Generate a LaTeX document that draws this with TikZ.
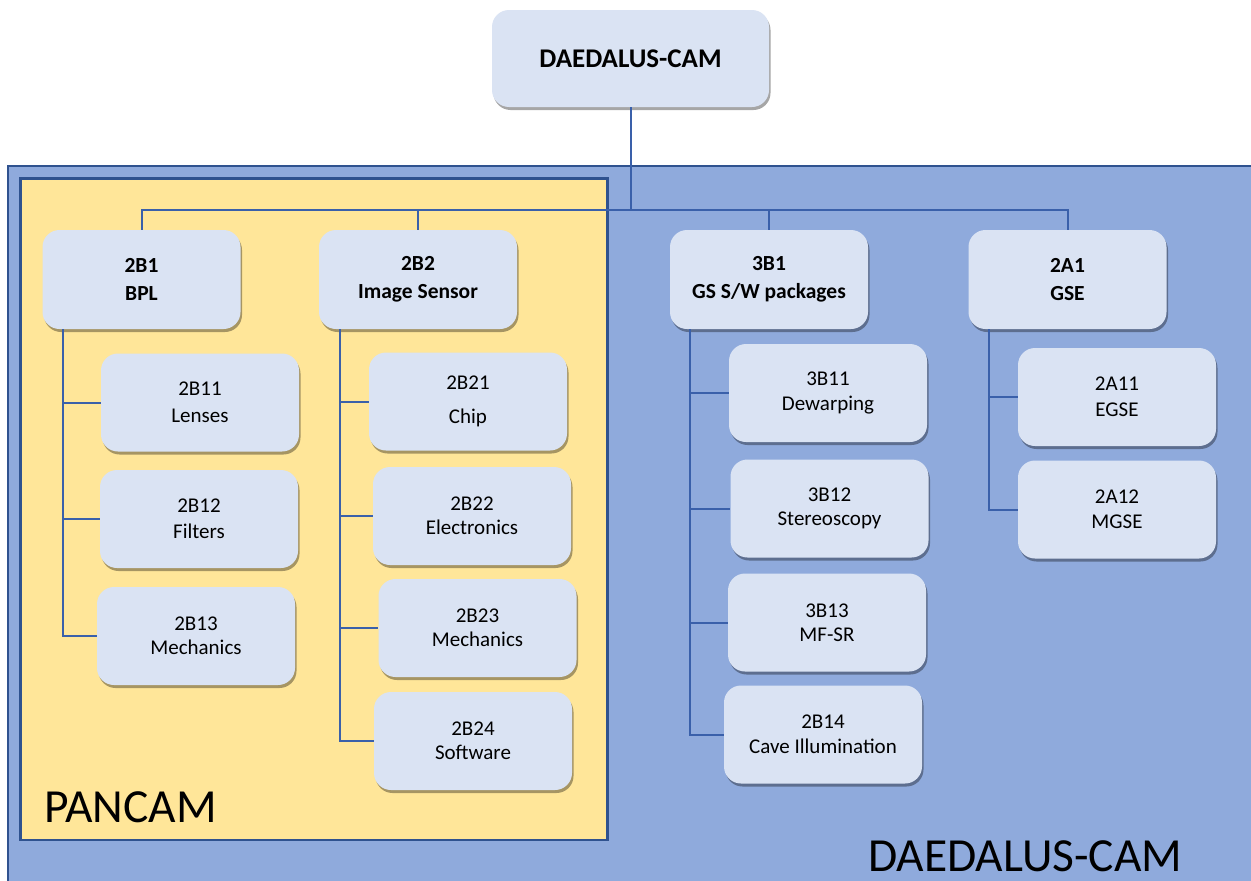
\documentclass[tikz,border=0pt]{standalone}
\usepackage{fontspec}
\setmainfont{Carlito}
\usetikzlibrary{shadows}
\definecolor{nodefill}{RGB}{218,227,243}
\definecolor{bluebg}{RGB}{143,170,220}
\definecolor{yellowbg}{RGB}{255,230,153}
\definecolor{frameblue}{RGB}{47,82,143}
\definecolor{linkblue}{RGB}{58,96,170}
\tikzset{
  boxbase/.style={rectangle, rounded corners=17pt, fill=nodefill, draw=none,
    inner sep=0pt, align=center, text=black,
    drop shadow={shadow xshift=1.5pt, shadow yshift=-3pt, opacity=0.35, fill=black}},
  topbox/.style={boxbase, minimum width=277pt, minimum height=97pt,
    font=\fontsize{27}{32}\selectfont\bfseries},
  levelbox/.style={boxbase, minimum width=198pt, minimum height=99pt,
    font=\fontsize{21.5}{27.5}\selectfont\bfseries},
  childbox/.style={boxbase, minimum width=198pt, minimum height=98pt,
    font=\fontsize{21}{24.5}\selectfont},
  link/.style={draw=linkblue, line width=2pt},
  frame/.style={draw=frameblue, line width=2.5pt},
  biglabel/.style={anchor=base west, inner sep=0pt, font=\fontsize{47.5}{50}\selectfont, text=black}
}
\begin{document}
\begin{tikzpicture}[x=1pt,y=-1pt]
\useasboundingbox (0,0) rectangle (1251,881);
\clip (0,0) rectangle (1251,881);
\fill[white] (0,0) rectangle (1251,881);
% containers
\path[frame, fill=bluebg] (8,166) rectangle (1270,900);
\path[frame, fill=yellowbg] (20.5,178.5) rectangle (607.5,840);
\node[biglabel] (pancam) at (44,822) {PANCAM};
\node[biglabel] (daedaluslbl) at (868,871) {DAEDALUS-CAM};
% top
\node[topbox] (top) at (630.5,58.5) {DAEDALUS-CAM};
% level 1
\node[levelbox] (b2B1) at (141.5,279.5) {2B1\\BPL};
\node[levelbox] (b2B2) at (418,279.5) {2B2\\Image Sensor};
\node[levelbox] (b3B1) at (769,279.5) {3B1\\GS S/W packages};
\node[levelbox] (b2A1) at (1067.5,279.5) {2A1\\GSE};
% children
\node[childbox] (n2B11) at (200,402.5) {2B11\\[2pt]Lenses};
\node[childbox] (n2B12) at (199,519) {2B12\\[1pt]Filters};
\node[childbox] (n2B13) at (196,636) {2B13\\Mechanics};
\node[childbox] (n2B21) at (468,401.5) {2B21\\[9pt]Chip};
\node[childbox] (n2B22) at (472,516) {2B22\\Electronics};
\node[childbox] (n2B23) at (477.5,628) {2B23\\Mechanics};
\node[childbox] (n2B24) at (473,741) {2B24\\Software};
\node[childbox] (n3B11) at (828,393) {3B11\\Dewarping};
\node[childbox] (n3B12) at (829.5,508.5) {3B12\\Stereoscopy};
\node[childbox] (n3B13) at (827,622.5) {3B13\\MF-SR};
\node[childbox] (n2B14) at (823,734.5) {2B14\\Cave Illumination};
\node[childbox] (n2A11) at (1117,397) {2A11\\[2pt]EGSE};
\node[childbox] (n2A12) at (1117,509.5) {2A12\\MGSE};
% connectors
\coordinate (hub) at (630.5,209.5);
\draw[link] (top.south) -- (hub);
\draw[link] (b2B1.north) |- (hub);
\draw[link] (b2B2.north) |- (hub);
\draw[link] (b3B1.north) |- (hub);
\draw[link] (b2A1.north) |- (hub);
\coordinate (s2B1) at (62.5,329);
\coordinate (s2B2) at (339.5,329);
\coordinate (s3B1) at (690,329);
\coordinate (s2A1) at (988.5,329);
\draw[link] (s2B1) |- (n2B13.west);
\draw[link] (s2B1 |- n2B11.west) -- (n2B11.west);
\draw[link] (s2B1 |- n2B12.west) -- (n2B12.west);
\draw[link] (s2B2) |- (n2B24.west);
\draw[link] (s2B2 |- n2B21.west) -- (n2B21.west);
\draw[link] (s2B2 |- n2B22.west) -- (n2B22.west);
\draw[link] (s2B2 |- n2B23.west) -- (n2B23.west);
\draw[link] (s3B1) |- (n2B14.west);
\draw[link] (s3B1 |- n3B11.west) -- (n3B11.west);
\draw[link] (s3B1 |- n3B12.west) -- (n3B12.west);
\draw[link] (s3B1 |- n3B13.west) -- (n3B13.west);
\draw[link] (s2A1) |- (n2A12.west);
\draw[link] (s2A1 |- n2A11.west) -- (n2A11.west);
\end{tikzpicture}
\end{document}
